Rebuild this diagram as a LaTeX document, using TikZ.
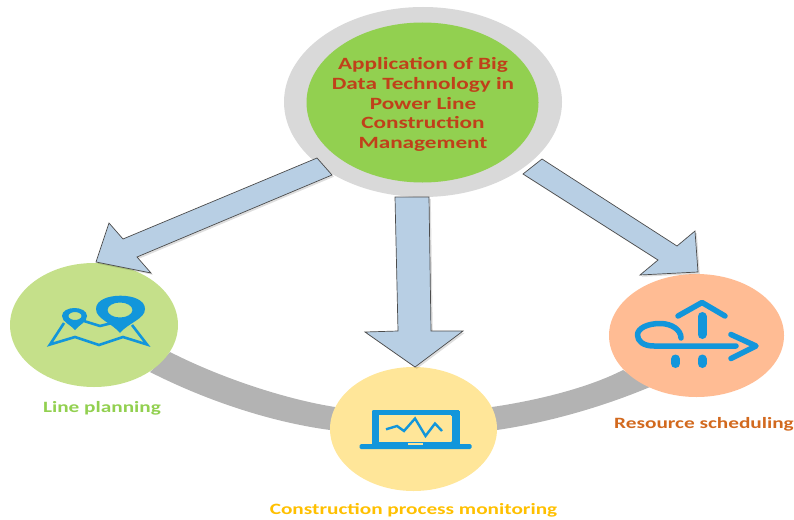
\documentclass[tikz,border=0pt]{standalone}
\usepackage{fontspec}
\setmainfont{Carlito}[FakeStretch=1.35]
\usetikzlibrary{shapes.geometric}
\definecolor{ringgrey}{HTML}{D9D9D9}
\definecolor{maingreen}{HTML}{92D050}
\definecolor{titlered}{HTML}{C0401A}
\definecolor{lgreen}{HTML}{C5E08A}
\definecolor{lyellow}{HTML}{FFE699}
\definecolor{lorange}{HTML}{FFBC94}
\definecolor{band}{HTML}{B3B3B3}
\definecolor{arrowblue}{HTML}{B8CFE4}
\definecolor{iconblue}{HTML}{1296DB}
\definecolor{labyellow}{HTML}{FFC000}
\definecolor{laborange}{HTML}{D2691E}
\newcommand{\blockarrow}[1]{%
  \fill[arrowshadow,shift={(1.8pt,-1.8pt)}] #1 -- cycle;
  \draw[arrowbody] #1 -- cycle;
}
\tikzset{x=1pt,y=-1pt,
  disc/.style={ellipse,minimum width=0pt,inner sep=0pt},
  arrowbody/.style={fill=arrowblue,draw=black!70,line width=0.7pt,line join=miter},
  arrowshadow/.style={fill=black,fill opacity=0.13,draw=none},
  title/.style={text=titlered,font=\bfseries\fontsize{17.2}{19.8}\selectfont,align=center},
  lab/.style={font=\bfseries\fontsize{15.75}{18}\selectfont},
  icon/.style={draw=iconblue,line join=round},
  iconfill/.style={fill=iconblue,even odd rule},
}
\begin{document}
\begin{tikzpicture}
\useasboundingbox (0,0) rectangle (794,519);
% band joining the three circles
\fill[band] (170,352) .. controls (225,380) and (290,400) .. (335,407)
  -- (492,407) .. controls (540,400) and (590,387) .. (623,370)
  -- (650,387) .. controls (600,408) and (545,423) .. (497,430)
  -- (330,430) .. controls (270,422) and (205,400) .. (150,372) -- cycle;
% circles
\node[disc,fill=ringgrey,minimum width=278pt,minimum height=190pt] (ring) at (423,102) {};
\node[disc,fill=maingreen,minimum width=232pt,minimum height=160pt] (core) at (422.5,102.5) {};
\node[disc,fill=lgreen,minimum width=168pt,minimum height=124pt] (plan) at (94,325) {};
\node[disc,fill=lyellow,minimum width=167pt,minimum height=124pt] (mon) at (413.5,429) {};
\node[disc,fill=lorange,minimum width=175pt,minimum height=123pt] (res) at (696.5,335.5) {};
% title and labels
\node[title] (ttl) at (423,104.5) {Application of Big\\Data Technology in\\Power Line\\Construction\\Management};
\node[lab,text=maingreen] (lplan) at (102,408) {Line planning};
\node[lab,text=labyellow] (lmon) at (413.5,510) {Construction process monitoring};
\node[lab,text=laborange] (lres) at (704,424) {Resource scheduling};
% block arrows
\blockarrow{(317,158) -- (332,175) -- (137,257) -- (151,273) -- (96,262) -- (109,223) -- (123,239)}
\blockarrow{(395,197) -- (429,197) -- (431,331) -- (463,331) -- (415,367) -- (365,332) -- (398,331)}
\blockarrow{(542,159) -- (523,174) -- (658,260) -- (640,275) -- (698,272) -- (695,231) -- (677,246)}
% map icon
\fill[iconfill] (120,333) .. controls (112,323) and (96,319) .. (96,309)
  .. controls (96,300) and (108,295.7) .. (120.5,295.7)
  .. controls (133,295.7) and (145,300) .. (145,309)
  .. controls (145,319) and (128,323) .. (120,333) -- cycle
  (120,310) ellipse [x radius=12.5,y radius=7.5];
\fill[iconfill] (75,330) .. controls (71,325) and (62,322) .. (62,316)
  .. controls (62,311) and (68,308) .. (74.5,308)
  .. controls (81,308) and (87,311) .. (87,316)
  .. controls (87,322) and (79,325) .. (75,330) -- cycle
  (75,316) ellipse [x radius=6.5,y radius=4];
\draw[icon,line width=2.6pt,line join=miter] (64,323) -- (50,344.5) -- (75,337) -- (99,345) -- (123,337) -- (147,344.5) -- (132,325);
\draw[icon,line width=2.6pt] (84,321) -- (100,326) -- (112,323);
% laptop icon
\draw[icon,line width=0pt,fill=iconblue,even odd rule,rounded corners=1pt] (372,410) rectangle (459,446) (378,414.5) rectangle (452,442);
\fill[iconblue,rounded corners=1.5pt] (359.5,444) rectangle (471.5,449);
\fill[lyellow] (408,443.3) rectangle (423,445);
\draw[icon,line width=2.4pt,line join=miter] (386,429.3) -- (397,426) -- (404,431) -- (415,418.5) -- (425.5,436) -- (435,423.5) -- (442,431);
% scheduling icon
\begin{scope}[icon,line cap=round]
\draw[line width=5.5pt] (678,316) -- (702,302.5) -- (725,316);
\draw[line width=9pt] (702,316.5) -- (702,334.5);
\draw[line width=5.5pt] (736,346) -- (654,346) .. controls (643,346) and (637.5,341) .. (637.5,335)
  .. controls (637.5,328) and (648,323.5) .. (660,323.5)
  .. controls (672,323.5) and (681,330) .. (681,338);
\draw[line width=5.5pt] (731,334.5) -- (756,346) -- (731,358.5);
\draw[line width=9pt] (675.5,359) -- (675.5,363.5);
\draw[line width=9pt] (702,359) -- (702,363.5);
\end{scope}
\end{tikzpicture}
\end{document}
